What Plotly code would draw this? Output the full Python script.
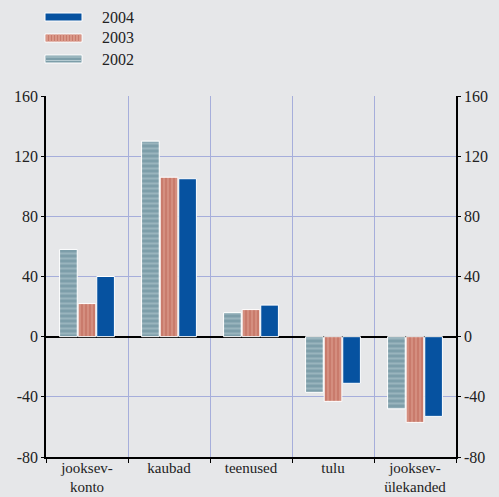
import plotly.graph_objects as go

categories = ["jooksev-<br>konto", "kaubad", "teenused", "tulu", "jooksev-<br>ülekanded"]
years = ["2002", "2003", "2004"]
values_2002 = [58, 130, 16, -37, -48]
values_2003 = [22, 106, 18, -43, -57]
values_2004 = [40, 105, 21, -31, -53]
y_tickvals = [-80, -40, 0, 40, 80, 120, 160]
y_ticktext = ["-80", "-40", "0", "40", "80", "120", "160"]

BG = "#e6e7e9"
BLUE = "#0652a0"
SALMON = "#c97b6c"
SALMON_L = "#e4aa9a"
TEAL = "#7d9ea9"
TEAL_L = "#b6cbd2"
GRID = "#a6aedb"
FONT = "'Liberation Serif', 'Times New Roman', serif"

W, H = 499, 497
ML, MR, MT, MB = 46, 43, 96, 40

fig = go.Figure()
fig.add_trace(go.Bar(x=categories, y=values_2002, name="2002",
                     marker=dict(color=TEAL, line=dict(color="white", width=1),
                                 pattern=dict(shape="-", fgcolor=TEAL_L, bgcolor=TEAL, size=5, solidity=0.4)),
                     showlegend=False))
fig.add_trace(go.Bar(x=categories, y=values_2003, name="2003",
                     marker=dict(color=SALMON, line=dict(color="white", width=1),
                                 pattern=dict(shape="|", fgcolor=SALMON_L, bgcolor=SALMON, size=4, solidity=0.4)),
                     showlegend=False))
fig.add_trace(go.Bar(x=categories, y=values_2004, name="2004",
                     marker=dict(color=BLUE, line=dict(color="white", width=1)),
                     showlegend=False))
# invisible trace for right axis
fig.add_trace(go.Scatter(x=categories, y=values_2004, yaxis="y2", mode="markers",
                         marker=dict(opacity=0), showlegend=False, hoverinfo="skip"))

fig.update_layout(
    width=W, height=H,
    paper_bgcolor=BG, plot_bgcolor=BG,
    margin=dict(l=ML, r=MR, t=MT, b=MB, autoexpand=False),
    barmode="group", bargap=0.32, bargroupgap=0.05,
    font=dict(family=FONT, size=16, color="#222222"),
    xaxis=dict(type="category", tickson="boundaries", showgrid=True, gridcolor=GRID, gridwidth=1,
               ticks="outside", ticklen=4, tickcolor="black", showline=True, linecolor="black",
               linewidth=1.5, automargin=False, ticklabelstandoff=-4,
               tickfont=dict(family=FONT, size=15, color="#222222")),
    yaxis=dict(range=[-80, 160], tickvals=y_tickvals, ticktext=y_ticktext, showgrid=True,
               gridcolor=GRID, gridwidth=1, zeroline=True, zerolinecolor="black", zerolinewidth=2,
               showline=True, linecolor="black", linewidth=1.5, ticks="outside", ticklen=3,
               tickcolor="black", automargin=False, tickfont=dict(family=FONT, size=16)),
    yaxis2=dict(range=[-80, 160], tickvals=y_tickvals, ticktext=y_ticktext, overlaying="y",
                side="right", showgrid=False, zeroline=False, showline=True, linecolor="black",
                linewidth=1.5, ticks="outside", ticklen=3, tickcolor="black", automargin=False,
                tickfont=dict(family=FONT, size=16)),
)

# custom legend (positions in pixels converted to paper coords)
legend_items = [("2004", 17), ("2003", 38), ("2002", 59)]
PW = W - ML - MR
PH = H - MT - MB
def px(x):
    return (x - ML) / PW
def py(y):
    return (H - MB - y) / PH

shapes = []
annotations = []
x0, x1 = 45, 82
for label, yc in legend_items:
    y0, y1 = yc - 4, yc + 4
    if label == "2004":
        shapes.append(dict(type="rect", xref="paper", yref="paper", x0=px(x0), x1=px(x1),
                           y0=py(y1), y1=py(y0), fillcolor=BLUE, line=dict(color="white", width=1)))
    elif label == "2003":
        shapes.append(dict(type="rect", xref="paper", yref="paper", x0=px(x0), x1=px(x1),
                           y0=py(y1), y1=py(y0), fillcolor=SALMON, line=dict(color="white", width=1)))
        xs = x0 + 2
        while xs < x1 - 1:
            shapes.append(dict(type="line", xref="paper", yref="paper", x0=px(xs), x1=px(xs),
                               y0=py(y1 - 0.5), y1=py(y0 + 0.5), line=dict(color=SALMON_L, width=1.2)))
            xs += 3
    else:
        shapes.append(dict(type="rect", xref="paper", yref="paper", x0=px(x0), x1=px(x1),
                           y0=py(y1), y1=py(y0), fillcolor=TEAL, line=dict(color="white", width=1)))
        for yy in (yc - 2, yc + 1.5):
            shapes.append(dict(type="line", xref="paper", yref="paper", x0=px(x0 + 0.5), x1=px(x1 - 0.5),
                               y0=py(yy), y1=py(yy), line=dict(color=TEAL_L, width=1.2)))
    annotations.append(dict(text=label, xref="paper", yref="paper", x=px(100), y=py(yc),
                            xanchor="left", yanchor="middle", showarrow=False,
                            font=dict(family=FONT, size=16, color="#222222")))

fig.update_layout(shapes=shapes, annotations=annotations)
fig.write_html("out.html", config={"displayModeBar": False},
               post_script="document.body.style.margin='0';document.body.style.overflow='hidden';")
